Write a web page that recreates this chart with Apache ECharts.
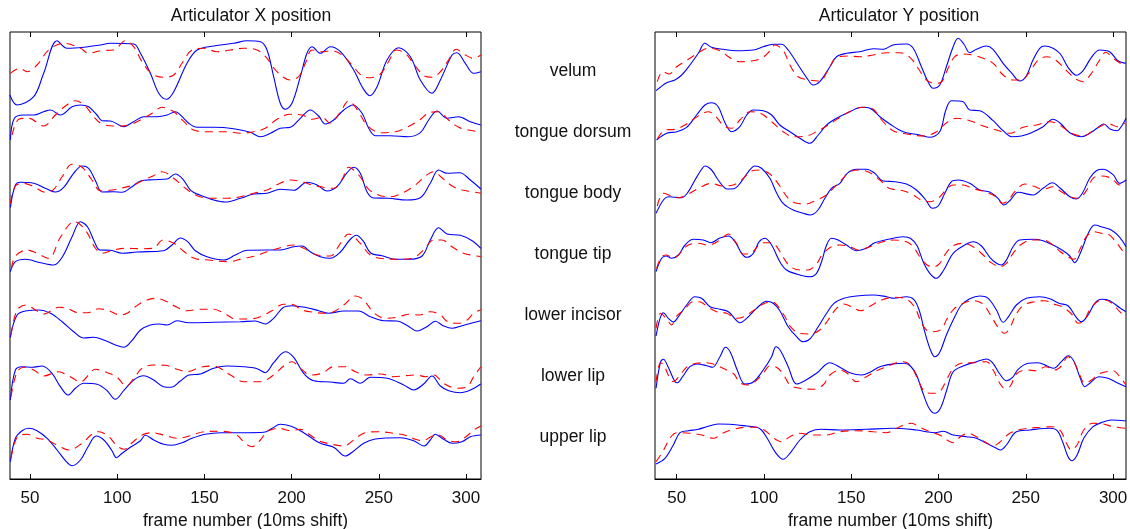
<!DOCTYPE html>
<html>
<head>
<meta charset="utf-8">
<script src="https://cdn.jsdelivr.net/npm/echarts@6/dist/echarts.min.js"></script>
<style>
  html, body { margin: 0; padding: 0; background: #fff; }
  #chart { width: 1130px; height: 529px; }
</style>
</head>
<body>
<div id="chart"></div>
<script>
// Articulator trajectories: measured (solid) vs estimated (dashed), [frame, position].
const articulators = ['velum', 'tongue dorsum', 'tongue body', 'tongue tip', 'lower incisor', 'lower lip', 'upper lip'];
const frameTicks = [50, 100, 150, 200, 250, 300];
const panelTitles = ['Articulator X position', 'Articulator Y position'];
const xAxisName = 'frame number (10ms shift)';
const traceSpacing = 61;

// ---- X position ----
const xVelumMeasured = [[38.4,-26],[42.6,-36],[52.1,-27.7],[57.8,-4.3],[65.5,28.3],[71.2,20.7],[80.8,21.7],[90.3,24],[96.1,25.7],[109.5,25],[113.3,15.7],[119,-4.3],[123.8,-24.3],[128.2,-30.3],[132.4,-22.7],[140,5.7],[145.8,19],[155.3,23],[166.8,25.7],[174.4,28.3],[182.1,27.3],[185.9,19],[189.7,-7.7],[193.5,-34.3],[196.4,-40.3],[200.2,-34.3],[205,-7.7],[208.8,15.7],[211.7,22.3],[216.5,15.7],[222.2,22.3],[228,17.3],[235.6,-1],[240.4,-17.7],[244.8,-26.7],[249,-17.7],[254.7,9],[261.4,21.3],[268.1,12.3],[273.8,-11],[280.5,-24.3],[285.3,-11],[292,14],[294.8,16.3],[299.6,5.7],[304.4,-4.3],[308.5,-2.7]];
const xVelumEstimated = [[38.7,-4.3],[44.1,0.7],[48.3,-2.7],[54,4],[60.7,19],[69.3,25.7],[78.9,20.7],[83.6,15.7],[90.3,18.3],[98,19],[104.7,28.3],[109.4,22.3],[114.2,7.3],[120,-5],[126.6,-8.3],[132.4,-6],[137.7,7.3],[142.9,19],[149.6,20.7],[157.2,17.3],[164.9,19],[172.5,20.7],[180.2,19],[185.9,10.7],[191.6,-2.7],[199.3,-11],[204,-7.7],[207.9,5.7],[211.7,19],[217.4,17.3],[223.2,18.3],[228.9,14],[234.6,4],[240.4,-7],[245.5,-8.7],[250.9,-5],[255.6,7.3],[260,19],[265.2,15.7],[270.9,3],[276.1,-7],[280.5,-8.3],[285.3,-2.7],[290,9],[294.4,19.7],[299.6,14],[304.4,10.7],[308.5,14]];
const xDorsumMeasured = [[38.7,-10],[41,11.7],[46.4,15],[52.1,15],[57.8,18.3],[61.7,20],[67.4,15],[74.1,23.3],[78.9,25],[83.6,23.3],[88.4,15],[91.3,9.3],[96.1,9],[103.7,3.3],[109.4,8.3],[115.2,13.3],[122.8,13.3],[128.6,15],[133.3,18.3],[137.2,13.3],[141,6.7],[145.8,2.7],[155.3,2.7],[166.8,1.3],[176.3,-2.3],[182.1,-6.7],[187.8,-3.3],[193.5,1.7],[199.3,2.7],[205,11.7],[210.7,20],[215.5,14],[219.3,6],[224.1,10],[229.9,20],[235.2,25],[240.4,16.7],[244.2,1.7],[248,-5.7],[256.6,-5.7],[267.1,-6.7],[273.8,-2.7],[278.6,10],[283.4,19],[289.1,11.7],[295.8,13.3],[302.5,8.3],[308.5,5]];
const xDorsumEstimated = [[39.7,-5],[43.5,10.7],[49.2,11.7],[57.8,4],[64.5,15],[70.3,24],[76,29.3],[81.7,24],[86.5,13.3],[91.3,6],[98.9,4],[106.6,5],[113.3,10],[120,16.7],[125.7,22.7],[132.4,18.3],[137.7,9.3],[143.8,0],[151.5,-1.7],[163,-1.7],[170.6,-3.3],[178.2,-1.7],[184.9,1.7],[191.6,10.7],[199.3,15.7],[205.9,15],[211.7,10.7],[217.4,12.7],[222.2,6.7],[228,18.3],[232.7,29],[237.5,20.7],[243.2,5],[250.9,-2.7],[259.4,-1.7],[266.1,2.7],[272.8,9.3],[279.5,17.7],[284.3,18.3],[290,10],[295.8,2.7],[301.5,0],[307.2,-1.7]];
const xBodyMeasured = [[38.7,-16.3],[41.6,6],[44.5,8.7],[52.1,7.7],[59.8,2],[64.5,-1],[69.3,3.7],[75,17.7],[79.8,25],[83.6,22.7],[87.5,10.3],[91.3,-1],[98,-0.7],[102.7,-1.3],[108.5,4.3],[113.3,10],[120.9,11.3],[128.6,12],[133.3,17],[137.7,11.7],[142.3,0.3],[147.7,-4.3],[155.3,-9],[162,-11],[170.6,-7.3],[178.3,-3],[185.9,-2.3],[193.5,1.7],[201.2,0.7],[208.8,8.7],[214.6,6],[220.3,0],[226,4.3],[231.8,18.3],[235.6,23.7],[239.4,17.7],[243.2,-0.7],[247,-7],[255.6,-7.3],[266.1,-9],[273.8,-6.7],[279.5,7.7],[284.3,21],[289.1,17.7],[296.4,18.3],[302.5,11],[308.5,2]];
const xBodyEstimated = [[38.7,-12.3],[41.6,5],[46.4,7.7],[52.1,4.3],[58.8,-1.3],[63.6,1.7],[68.4,14.3],[74.1,26.7],[79.8,23.7],[85.5,11],[90.3,0.3],[97,1],[102.7,3],[109.4,6],[115.2,11],[120.5,15],[125.7,19.3],[132.4,12.7],[139.1,2.7],[145.8,-4.7],[153.4,-7.3],[163,-7.3],[170.6,-5.7],[178.2,-2.3],[185.9,1],[192.5,7],[199.3,11],[205.9,9.3],[211.7,6],[218.3,3.7],[224.1,2.7],[228.9,11.7],[232.7,23.7],[238.5,16],[244.2,1.7],[250.9,-4.7],[256.6,-5.7],[264.3,-1.3],[271,6],[276.7,15],[281.5,19.3],[286.2,13.3],[292,5],[297.7,1],[303.4,-0.7],[308.5,-2.3]];
const xTipMeasured = [[38.7,-19.7],[41.6,-9.7],[47.3,-7.3],[56,-10.7],[63.6,-13],[68.4,-5.3],[74.1,15.3],[78.9,30.3],[83.1,24.7],[86.9,10.3],[90,2],[96.1,1.7],[102.8,-1.3],[111.4,0],[126.6,1.3],[131.4,7],[136.2,14],[140.4,10.3],[144.8,1.3],[151.5,-4.7],[161.1,-8],[167.7,-3],[174.4,1.7],[185.9,2],[193.5,2],[201.2,5.3],[206,6],[210.7,0.3],[216.5,-4.7],[222.2,-6.3],[228,0],[233.3,12],[237.1,16.7],[240.9,11.3],[245.5,-1.3],[251.8,-3.7],[259.4,-7.3],[267.1,-7.3],[274.8,-4],[279.5,12],[284.3,24.3],[289.1,18],[296.8,16.7],[303.5,11.3],[308.5,3.7]];
const xTipEstimated = [[39.3,-16.3],[41.6,-4],[48.3,2],[54,-1.3],[60.7,-6.3],[67.4,14.7],[75.4,30.3],[81.7,22],[87.5,3.7],[91.3,-1.3],[98,2],[104.7,3.7],[113.3,3.3],[120.5,3.7],[126.3,12],[132.4,8.7],[137.7,1.3],[144.2,-6.3],[152.5,-8],[163.9,-9.7],[172.5,-6.3],[179.2,-4],[185.9,0.3],[193.5,4.3],[201.2,7],[206.9,3.7],[214.6,-3],[222.2,-4],[228,8.7],[232.7,18],[239.4,8.7],[245.1,-3],[252.8,-6.7],[262.3,-7.3],[270,-5.7],[275.7,2],[281.5,12],[286.2,12],[292,5.3],[297.7,-0.7],[303.4,-3.3],[308.5,-4.7]];
const xIncisorMeasured = [[38.7,-24.3],[42.6,-2],[48.3,2.3],[55,3],[61.7,-0.3],[68.4,-8.7],[75,-18.7],[80.8,-25],[86.5,-24.3],[92.3,-27],[99,-32],[103.7,-34.3],[107.9,-28.7],[113.3,-17],[119,-12],[124.3,-11],[128.6,-12],[134.3,-7.7],[141,-9.7],[155.3,-9.3],[170.6,-8.7],[179.2,-8],[184.9,-11],[189.7,-5.3],[195,5.3],[200.2,7.3],[208.8,5.3],[215.5,2.3],[221.2,-0.3],[229.8,2],[238.4,2],[245.1,-3.7],[252.8,-7.7],[260.4,-8],[266.5,-12.7],[271.9,-18],[277.6,-13.7],[282.4,-8.3],[287.2,-13],[292,-15.3],[297.7,-12.7],[302.9,-10.3],[308.5,-7.7]];
const xIncisorEstimated = [[39.1,-22],[42.6,3],[47.9,8],[53.1,3],[57.8,-1],[66.4,5.7],[71.2,4.7],[77.9,0.3],[83.1,0.3],[89.4,4.3],[95.1,2.3],[101.8,-2],[105.6,-0.3],[110.4,6.3],[116.1,12.3],[121.9,14.7],[128.6,11.3],[134.3,5.7],[140,2.3],[147.7,3.7],[155.3,3.7],[162,-1],[167.7,-6],[175.3,-6],[182.1,-3.7],[188.7,2.3],[195.4,8.7],[200.2,8.7],[206,3],[212.7,0.7],[219.4,-0.3],[224.1,1.3],[229.9,8],[236.6,17],[241.3,13],[247.1,0.3],[253.8,-5.3],[260.4,-4.3],[267.1,-1.3],[273.4,-2],[279.5,1.3],[285.3,-2],[289.5,-8.7],[295.8,-10.3],[300.6,-7],[304.4,-0.3],[308.5,3.3]];
const xLowerLipMeasured = [[38.7,-26],[41.6,4],[45.4,7.3],[51.2,6.7],[56.9,8],[62.6,0.7],[67.4,-12.7],[71.8,-21],[76,-14.3],[80.8,-9.3],[88.4,-10.3],[94.2,-16.7],[98.9,-25.3],[103.7,-16.7],[109.4,-6],[115.2,-1.7],[120.9,-6],[126.6,-12.7],[130.8,-13.3],[136.2,-7],[141,-1],[147.7,0],[155.3,5.7],[163,8],[172.5,7.3],[180.2,5.3],[184.9,1.3],[189.7,11.3],[196.4,22.3],[201.2,16.7],[206.9,0.7],[212.7,-6.7],[222.2,-8],[229.9,-9.3],[233.7,-4.7],[239.4,-9.3],[245.2,-3.3],[254.7,-4.3],[264.3,-11],[270,-16],[275.7,-10],[280.5,-2],[285.3,-12],[290.1,-16.7],[296.8,-18.7],[302.5,-16],[308.5,-10]];
const xLowerLipEstimated = [[39.1,-22.7],[42.6,2.3],[46.8,6.7],[52.1,4],[57.8,-2],[66.4,2.3],[72.2,-2],[78.9,-7.7],[87.5,4.7],[95.1,0.7],[99.9,-3.3],[105.2,-12],[109.5,-4.3],[114.2,5.7],[120.9,9],[127.6,8.7],[134.3,4.7],[140,2.3],[147.7,6.7],[155.3,8],[164.9,-1],[172.5,-7.7],[182.1,-7.7],[189.7,-1],[195.4,8],[200.2,12.3],[205,5.7],[210.7,-1],[217.4,0.7],[224.1,7.3],[230.8,7.3],[236.5,2.3],[243.2,-1],[250.9,0],[258.5,-2.7],[265.2,-1.7],[271.9,-1],[276.7,-2.7],[281.5,-1],[287.2,-9.3],[294.8,-14.3],[300.6,-12.7],[304.4,-2.7],[308.5,7.3]];
const xUpperLipMeasured = [[38.7,-26.7],[41.6,-3.3],[45.4,4.3],[49.2,6.7],[54,4.3],[59.8,-3.3],[65.5,-15],[70.8,-26.7],[74.1,-30.7],[78.9,-25],[83.1,-12.3],[87.9,-1],[92.3,-5],[97,-15.7],[99.5,-22.7],[102.8,-18.3],[107.5,-12.3],[113.3,-5.7],[116.1,-0.3],[120.9,-5],[126.6,-9.3],[131.4,-10.3],[137.2,-7.7],[142.9,-3.3],[150.5,0.7],[159.1,2.3],[174.4,2.3],[184,2.7],[188.8,6.7],[193.5,10.7],[199.3,9],[205,4.3],[210.8,-2.3],[216.5,-8.3],[224.1,-12.3],[230.8,-21],[235.6,-16],[241.3,-8.3],[248,-4],[262.3,-2.7],[270,-5.7],[276,-11],[279.5,-5],[282.4,0.7],[287.2,-4.3],[292,-8.3],[297.7,-6.7],[302.5,-1.7],[308.5,0]];
const xUpperLipEstimated = [[39.1,-23.3],[42.6,-2.3],[48.3,0.7],[54,-3.3],[59.8,-5],[66.4,-11],[72.2,-15],[79.8,-8.3],[85.6,1],[89.4,3.3],[95.1,-1.7],[99.9,-11],[104.1,-14.3],[108.5,-7.7],[114.2,0],[120,2.3],[126.6,0],[134.3,-3.3],[142,-0.7],[149.6,3.3],[159.1,3.7],[167.7,1],[173.4,-8.3],[177.3,-11.7],[182.1,-5],[185.9,3.3],[192.6,6.7],[199.3,4.3],[205,5.7],[209.8,1],[215.5,-5.7],[222.2,-9],[229.9,-11],[235.6,-5],[241.3,1.7],[249.9,3.3],[258.5,1.7],[265.2,-0.3],[271,-4.3],[275.4,-5.7],[279.9,-1.7],[284.3,0],[289.1,-5],[294.5,-6.7],[299.6,-2.3],[304.4,5],[308.5,9]];

// ---- Y position ----
const yVelumMeasured = [[38.2,-21.7],[44.3,-13.7],[49,-11],[52.9,-6],[57.6,4],[62.4,15.7],[66.2,25.7],[70,21.7],[76.7,19.7],[84.3,18.3],[93.9,19],[99.6,22.3],[105.3,24.7],[110.1,24.7],[113.9,19],[119.6,4],[125.4,-11],[128.2,-16],[132,-12.7],[137.8,2.3],[141.6,12.3],[147.3,15.7],[154.9,17.3],[162.6,20.3],[168.3,19.7],[174,24],[181.6,25],[185.5,20.7],[190.2,2.3],[194,-12.7],[196.9,-19.3],[200.7,-16],[204.5,2.3],[208.4,22.3],[211.2,30.7],[214.5,25],[217.9,16.3],[221.7,19.7],[227.4,23],[231.2,19.7],[237,5.7],[241.7,-3.7],[246.5,-12],[250.3,-7],[254.1,9],[258,20.7],[260.8,23],[265.6,20.7],[269.8,15],[274.2,1.7],[279,-6.3],[282.8,-1.7],[287.6,11.7],[292.3,19],[298,17.3],[302.8,8.3],[307.4,5.7]];
const yVelumEstimated = [[38.9,-12.7],[42,-2.7],[45.8,-5],[50,2.3],[57.6,10.7],[63.4,17.3],[68.1,20.7],[74.8,18.3],[80.1,11.7],[86.3,7.3],[92.9,8],[98.7,10.7],[102.5,16.3],[106.3,24],[111.1,18.3],[114.9,4],[119.6,-7.7],[126.3,-11],[132,-12],[136.8,-1],[141.6,11.7],[148.3,13],[154.9,12.3],[162.6,14],[170.2,16.3],[177.8,16.3],[183.6,11.7],[188.3,0.7],[193.1,-11],[197.9,-14.3],[201.7,-13],[205.5,0.7],[209.3,12.3],[214.1,15],[219.8,14],[225.6,10.7],[231.3,5.7],[237,-6],[242.7,-11],[247.5,-11],[252.3,-2.7],[257.1,9],[262.2,12.3],[267.6,8.3],[273.3,-1.7],[278.6,-10],[282.8,-12.7],[287.6,-4.3],[292.3,9],[295.8,16.7],[300,10.7],[305.7,4],[307.4,3]];
const yDorsumMeasured = [[38.5,-10],[44.3,-3.3],[50,-1.7],[55.7,2.7],[61.4,15],[66.2,25],[70,27.3],[73.8,23.3],[77.7,7.3],[81.5,-1.7],[86.2,3.3],[90.1,15],[93.9,20],[99.6,19.3],[104.4,15],[109.1,5],[114.9,-1.7],[120.6,-8.3],[126.3,-13.3],[131.1,-5],[135.9,5],[141.6,11.7],[149.2,18.3],[155.9,22.7],[160.7,21.7],[166.4,13.3],[172.1,6],[179.7,-1.7],[189.3,-5],[195,-7.3],[200.7,-1.7],[204.2,20],[207.4,29.3],[214.1,28.3],[217.9,20],[223.7,19.3],[231.3,9.3],[237,-0.7],[241.8,-6.7],[247.5,-6],[253.2,-2.7],[259.9,3.3],[265.6,10.7],[269.8,6.7],[275.2,-2.7],[281.9,-6.7],[286.6,-3.3],[290.8,1.7],[294.6,6],[298.5,0.7],[302.3,-0.7],[305.3,5],[307.4,11.7]];
const yDorsumEstimated = [[38.9,-9.3],[43.3,0],[49,0.7],[55.7,6],[63.3,15],[68.1,18.3],[72.5,13.3],[77.1,4],[81.5,1.7],[86.2,10],[92,18.3],[98.1,16.7],[104.4,8.3],[111.1,-1.7],[116.8,-6.7],[124.4,-6],[130.1,-1.7],[137.8,6],[147.3,16.7],[156.9,22.7],[162.6,20.7],[167.4,10],[174,-0.7],[181.7,-4],[191.2,-6],[198.9,-1.7],[204.6,7.3],[210.3,11.7],[217.9,9.3],[225.6,4],[233.2,0],[240.8,-3.3],[248.5,2.7],[256.1,5],[263.7,8.3],[269.5,5],[276.1,-3.3],[282.8,-6],[288.5,-0.7],[294.2,5],[298,6],[302.3,3.3],[306.7,6.7]];
const yBodyMeasured = [[38.2,-22.3],[42.4,-9],[45.2,-5.7],[49,-6.3],[52.9,-6.7],[56.7,-0.7],[60.5,11],[64.3,21.7],[66.2,25],[70,21],[73.8,11],[79,2],[82.8,2.3],[86.6,8.3],[90.4,17.7],[94.8,25],[98.6,22.7],[103.4,12.7],[107.2,-1.7],[111,-12.3],[116.8,-19],[122.5,-22.3],[126.3,-24],[130.5,-20],[134.9,-7.3],[138.7,2.7],[143.5,7.7],[147.7,17.7],[153,21.7],[158.7,21.7],[163.5,17.7],[167.9,10.3],[175,9.3],[181.6,7],[187.4,1],[192.7,-9],[196.5,-17.3],[199.8,-15],[203.6,-2.3],[207.4,9.3],[211.2,11],[217.9,7.7],[223.6,1],[229.3,-1],[234.1,-7.3],[237.4,-14],[241.2,-9],[245.6,-1.3],[254.2,-4],[259.9,2.7],[265.2,8.3],[269.8,2.7],[275.2,-5.7],[279,-8],[282.4,-2.3],[286.6,12.7],[290.4,20.3],[294.2,21.7],[300,16.3],[303.8,7.7],[307.4,11]];
const yBodyEstimated = [[38.9,-15],[42.4,-2.3],[47.1,-5],[51,-6.7],[55.7,-4],[62.4,2.7],[70,7.7],[75.8,5],[82.4,6],[87.2,11],[92.9,20],[97.7,21],[103.4,17],[109.1,5],[113.9,-7.3],[118.7,-12.3],[124.4,-13],[130.1,-9],[134.9,-5],[139.7,2.7],[144.4,11],[149.2,19.3],[154.9,21],[160.7,18.3],[166.4,11],[171.7,2.7],[179.7,0.3],[185.5,-4],[190.8,-9.7],[195,-10.7],[199.8,-7.3],[204.2,1],[208.4,6],[214.1,6],[219.8,2.3],[227.4,-1],[232.8,-5.7],[236.6,-12.3],[239.8,-9.7],[243.7,-0.7],[249.4,7],[254.2,5],[259.9,1.7],[265.6,4.3],[270.4,-0.7],[275.2,-5.7],[279.9,-7.3],[284.7,0.3],[288.5,12.7],[293.3,15],[299,12.7],[303.8,6],[307.4,8.3]];
const yTipMeasured = [[38.2,-19.7],[41.4,-6.3],[43.9,-4],[47.1,-6.3],[51,-3],[54.8,7],[59.5,12.7],[65.2,12],[69.5,9.3],[74.8,14],[79.6,16],[83.4,10.3],[87.2,-1.3],[90.1,-5.3],[93.9,-1.3],[97.3,10.3],[100.6,13.7],[104.4,7],[109.1,-9.7],[112.9,-18],[118.7,-22],[126.3,-24.7],[130.1,-21.3],[133,-9.7],[135.9,7],[138.7,13.7],[142.5,12],[147.3,7],[153,1.3],[158.7,3.7],[163.5,9.3],[171.2,12.7],[179.7,15.3],[183.9,13.7],[187.8,6],[191.2,-9.7],[195,-21.3],[198.8,-26.3],[203,-18],[208.4,-1.3],[215,7],[219.8,10.3],[224.6,6],[229.4,-5.3],[233.2,-11.3],[236,-13],[238.9,-8],[242.7,5.3],[246.5,12],[254.2,12.7],[259.9,11.3],[265.6,7],[271.4,1.3],[275.2,-4],[278,-10.7],[281.8,1.3],[285.6,18],[289.4,27],[294.2,24.7],[299,22],[303.8,14.7],[307.4,5.3]];
const yTipEstimated = [[38.5,-16.3],[41.4,-4.7],[44.3,-3],[48.1,-6.3],[51.9,-1.3],[56.7,7],[62.4,8.7],[68.1,6.7],[74.8,12],[79.6,18],[84.3,8.7],[88.1,-2],[92,-2],[95.4,3.7],[98.6,9.3],[104.4,9.3],[107.6,4.7],[111.4,-6.3],[115.2,-14.7],[120.6,-18],[125.4,-18],[130.1,-12],[133.6,-2],[138.7,5.3],[143.5,7],[149.2,5.3],[154,2],[160.7,5.3],[167.4,10],[174,12],[181.6,10.3],[185.5,5.3],[189.3,-4.7],[193.5,-13],[197.3,-14.7],[200.7,-11.3],[204.2,-1.3],[208.4,6.3],[214.1,8.7],[219.8,5.3],[225.6,-3],[229.8,-10.3],[235.1,-14.7],[238.9,-11.3],[242.7,-1.3],[246.9,7],[253.2,12],[259.9,12],[265.6,7],[269.8,0.3],[274.2,-4.7],[277.5,-7.3],[281.3,3.7],[284.7,15.3],[288.9,20.3],[293.3,18.7],[297.1,18],[301,11.3],[304.8,2.7],[307.4,-3]];
const yIncisorMeasured = [[38.2,-23],[40.5,-5.3],[42.4,0.3],[45.2,-5.3],[48.1,-9],[51,-3.7],[55.7,8],[60.5,16.3],[64.3,14.7],[69.1,6.3],[74.8,3.7],[79.6,1.3],[84,-7],[86.2,-9.7],[90.1,-5.3],[95.8,4.7],[101.5,11.7],[105.3,9.7],[109.1,2.3],[113.9,-13.7],[118.7,-23.7],[122.5,-28.7],[126.7,-25.3],[131.1,-13.7],[135.9,-0.3],[140.1,9.7],[145.8,14.7],[153,17],[162.6,18],[170.2,16.3],[174.4,14.7],[181.6,16.3],[185.8,13.7],[188.9,3],[192.1,-18.7],[195.4,-37],[197.9,-43.7],[200.7,-39.3],[204.5,-22],[209.3,-3.7],[213.1,8],[217.9,14.3],[223.6,17],[228.4,14.7],[233.2,3],[237,-9.3],[239.8,-4.3],[244.6,8],[250.3,14.7],[258,16.3],[264.1,14],[269,9.7],[274.2,7.3],[278.6,-3.7],[281.9,-8.7],[285.7,-2],[289.5,9.7],[293.3,13.7],[298.1,12.3],[303.8,5.3],[307.4,1.3]];
const yIncisorEstimated = [[38.2,-15.3],[40.8,-0.3],[44.3,-6.3],[47.1,-12],[50,-3],[54.2,3],[59.5,11.3],[63,11.3],[68.1,5.7],[72.9,1.3],[78.6,-0.3],[84.3,-5.3],[88.5,-3.7],[93.9,2.3],[99.6,9],[104.4,11.3],[111.1,-1],[115.2,-13.7],[119.6,-19.7],[126.3,-21],[132,-17],[136.8,-7],[141.6,4.7],[145.8,9],[150.2,6.3],[155.3,2.3],[161,7],[167.4,13],[175,15.7],[181.6,14],[186.4,5.7],[189.7,-7.7],[193.1,-17],[196.9,-18.7],[201.7,-16.3],[204.5,-7],[208.7,3.7],[214.1,9.7],[219.8,12.3],[225.5,9],[229.8,-2],[234.1,-14.3],[237.9,-20.3],[240.8,-15.3],[244.2,-2],[248.8,8],[255.1,11.3],[260.8,12.3],[266,9],[271.3,5.7],[276.7,-2],[279.9,-10.3],[283.2,-8],[286.6,3],[290.8,11.3],[294.6,13],[299,10.3],[303.8,1.3],[307.4,-4.3]];
const yLowerLipMeasured = [[38.2,-14.3],[40.8,12.3],[42.4,14.7],[45.2,6.7],[49,-7.7],[50.4,-8.7],[53.4,-2.7],[57.6,7.3],[61.8,10],[67.2,8.3],[70.6,6.7],[74.8,17.3],[78,26.7],[80.9,21.3],[84.7,4],[89.1,-10],[93.9,-8],[99.6,4],[104.4,17.3],[106.9,27.3],[109.5,23.3],[113.9,7.3],[118.7,-10],[123.4,-6.7],[130.1,0.7],[137.8,11.3],[143.5,6.7],[149.2,1.3],[155.9,-1],[161,2],[166.4,7.3],[174,10],[180.7,10.7],[183.9,8],[187.4,-1],[190.8,-17.7],[194.6,-34.3],[197.9,-39.3],[201.1,-34.3],[204.6,-16.7],[208.4,2.3],[214.1,8],[221.7,12.3],[227.5,15],[230.9,11.3],[235.1,0],[238.9,-6.7],[242.4,-3.3],[245.6,4.7],[251.3,10.7],[257.1,11.3],[262.2,8],[266,5.7],[270.4,12.3],[274.2,18.3],[277.5,13],[280.9,-2.7],[283.8,-12.7],[287,-8.7],[291.9,-2.7],[297.1,-4.3],[302.3,-8.7],[307.4,-12.7]];
const yLowerLipEstimated = [[38.2,-7.7],[40.8,11.3],[42.7,9],[45.2,-1],[48.1,-7.7],[51.9,-1],[56.1,7.3],[61.4,10.7],[67.2,11.3],[71.4,9.7],[78.6,4],[82.8,0],[86.2,-8.7],[90.4,-11],[94.8,-7.7],[99.6,0.7],[103.4,8],[107.2,6.7],[111,0],[114.9,-11],[120.6,-14.3],[128.2,-15.3],[133.9,-11],[137.8,-1],[143.5,4],[147.7,0.7],[153,-7.7],[158.7,-2.7],[163.5,2.3],[170.2,7.3],[175.9,11.3],[180.1,12.3],[184.5,7.3],[188.3,-6],[192.1,-17.7],[196.9,-19.3],[200.7,-17.7],[204.6,-6],[208.4,5.7],[213.1,10.7],[219.8,11.3],[227.5,12.3],[231.3,4],[235.1,-9.3],[238,-14.3],[241.2,-12],[244.6,0],[250.4,4],[256.1,3.3],[261.4,7.3],[266.6,4],[270.4,8],[274.2,17.3],[277.5,12.3],[280.9,-1],[283.8,-9.3],[287.6,-6],[291.9,0],[296.1,2.3],[299.9,3.3],[303.8,-2.7],[307.4,-11]];
const yUpperLipMeasured = [[38.2,-29],[43.3,-23.3],[48.1,-10],[51.9,2.3],[56.7,4.3],[62.4,5.7],[67.2,8.3],[73.8,11],[80.5,10.7],[90.1,9],[95.8,7.7],[98.6,5],[101.9,-3.3],[106.3,-16.7],[111,-24.3],[114.9,-18.3],[120.6,-5],[126.3,3.3],[133,5.7],[143.5,5],[158.7,5.7],[174,6.7],[187.4,5],[193.1,3.3],[197.9,2.3],[202.7,3.7],[208.4,0],[216,-1.7],[221.7,-3.3],[227.5,-8.3],[233.2,-13.3],[235.5,-15],[238.9,-10],[244.6,3.3],[252.3,5],[263.7,6.7],[268,4.3],[271.4,-8.3],[274.2,-21.7],[276.5,-25.7],[279.4,-20],[283.2,-3.3],[288.5,8.3],[294.2,13],[299,15],[307.4,14]];
const yUpperLipEstimated = [[38.2,-26.7],[42,-16.7],[47.1,-1],[50.4,2.3],[57.6,1.7],[64.3,0],[71,-3.3],[76.3,1.7],[82.4,5.7],[90.1,7.7],[95.8,7.7],[101.5,3.3],[105.7,-3.3],[110.1,-6.7],[114.9,-1.7],[120.6,1.7],[127.3,0],[135.9,0],[143.5,3.3],[153,4.3],[162.6,3.3],[170.2,2.3],[177.8,8.3],[184.5,11.7],[189.3,7.7],[195,3.3],[200.7,0],[205.5,-5.7],[208.4,-7.7],[212.6,-1.7],[216.9,1.7],[221.7,-1.7],[227.4,-7.7],[231.3,-11],[234.7,-7.7],[240.8,1.7],[247.5,5.7],[258,7.7],[264.7,8.3],[269.8,4.3],[273.3,-8.3],[276.1,-15],[279.4,-10],[283.2,5],[288.5,11.7],[294.2,11],[300,8.3],[307.4,6.7]];

const panels = [
  {
    title: panelTitles[0], xMin: 38.5, xMax: 308.6, left: 10, titleX: 251,
    measured: [xVelumMeasured, xDorsumMeasured, xBodyMeasured, xTipMeasured, xIncisorMeasured, xLowerLipMeasured, xUpperLipMeasured],
    estimated: [xVelumEstimated, xDorsumEstimated, xBodyEstimated, xTipEstimated, xIncisorEstimated, xLowerLipEstimated, xUpperLipEstimated]
  },
  {
    title: panelTitles[1], xMin: 37.6, xMax: 307.4, left: 655, titleX: 899,
    measured: [yVelumMeasured, yDorsumMeasured, yBodyMeasured, yTipMeasured, yIncisorMeasured, yLowerLipMeasured, yUpperLipMeasured],
    estimated: [yVelumEstimated, yDorsumEstimated, yBodyEstimated, yTipEstimated, yIncisorEstimated, yLowerLipEstimated, yUpperLipEstimated]
  }
];

const FONT = '"Liberation Sans", Arial, Helvetica, sans-serif';
const TEXT_COLOR = '#111';
const GRID_TOP = 32, GRID_H = 447, GRID_W = 471;
const Y_MIN = -44, Y_MAX = 403;

// Vertical offset that stacks each articulator (velum on top, upper lip at bottom).
function offsetOf(k) { return traceSpacing * (articulators.length - 1 - k); }

const chart = echarts.init(document.getElementById('chart'), null, { renderer: 'canvas' });

const grid = [], xAxis = [], yAxis = [], series = [];
panels.forEach((p, i) => {
  grid.push({ left: p.left, top: GRID_TOP, width: GRID_W, height: GRID_H, show: true,
              containLabel: false, outerBoundsMode: 'none',
              borderColor: '#000', borderWidth: 1, backgroundColor: 'transparent' });
  xAxis.push({
    type: 'value', gridIndex: i, position: 'bottom', min: p.xMin, max: p.xMax,
    axisLine: { show: true, onZero: false, lineStyle: { color: '#000', width: 1 } },
    axisTick: { show: true, inside: true, length: 5, customValues: frameTicks, lineStyle: { color: '#000' } },
    axisLabel: { show: true, customValues: frameTicks, margin: 11, fontSize: 17, fontFamily: FONT, color: TEXT_COLOR },
    splitLine: { show: false },
    name: xAxisName, nameLocation: 'middle', nameGap: 31,
    nameTextStyle: { fontSize: 17.5, fontFamily: FONT, color: TEXT_COLOR }
  });
  xAxis.push({
    type: 'value', gridIndex: i, position: 'top', min: p.xMin, max: p.xMax,
    axisLine: { show: false, onZero: false },
    axisTick: { show: true, inside: true, length: 5, customValues: frameTicks, lineStyle: { color: '#000' } },
    axisLabel: { show: false },
    splitLine: { show: false }
  });
  yAxis.push({ type: 'value', gridIndex: i, min: Y_MIN, max: Y_MAX, show: false });

  const bottomAxis = i * 2;
  p.measured.forEach((arr, k) => {
    const off = offsetOf(k);
    series.push({
      type: 'line', name: articulators[k] + ' measured', xAxisIndex: bottomAxis, yAxisIndex: i,
      data: arr.map(([f, v]) => [f, v + off]), showSymbol: false, smooth: 0.35,
      lineStyle: { color: '#0000ff', width: 1.1 }, silent: true, z: 2
    });
  });
  p.estimated.forEach((arr, k) => {
    const off = offsetOf(k);
    series.push({
      type: 'line', name: articulators[k] + ' estimated', xAxisIndex: bottomAxis, yAxisIndex: i,
      data: arr.map(([f, v]) => [f, v + off]), showSymbol: false, smooth: 0.35,
      lineStyle: { color: '#ff0000', width: 1.1, type: [8, 6] }, silent: true, z: 3
    });
  });
});

chart.setOption({
  animation: false,
  backgroundColor: '#fff',
  grid, xAxis, yAxis, series
});

// Panel titles and the articulator names between the two panels.
const graphic = panels.map(p => ({
  type: 'text', x: p.titleX, y: 16,
  style: { text: p.title, font: '17.5px ' + FONT, fill: TEXT_COLOR, textAlign: 'center', textVerticalAlign: 'middle' }
}));
articulators.forEach((name, k) => {
  const py = chart.convertToPixel({ xAxisIndex: 0, yAxisIndex: 0 }, [100, offsetOf(k)])[1];
  graphic.push({
    type: 'text', x: 573, y: py + 2,
    style: { text: name, font: '17.5px ' + FONT, fill: TEXT_COLOR, textAlign: 'center', textVerticalAlign: 'middle' }
  });
});
chart.setOption({ graphic });
</script>
</body>
</html>
